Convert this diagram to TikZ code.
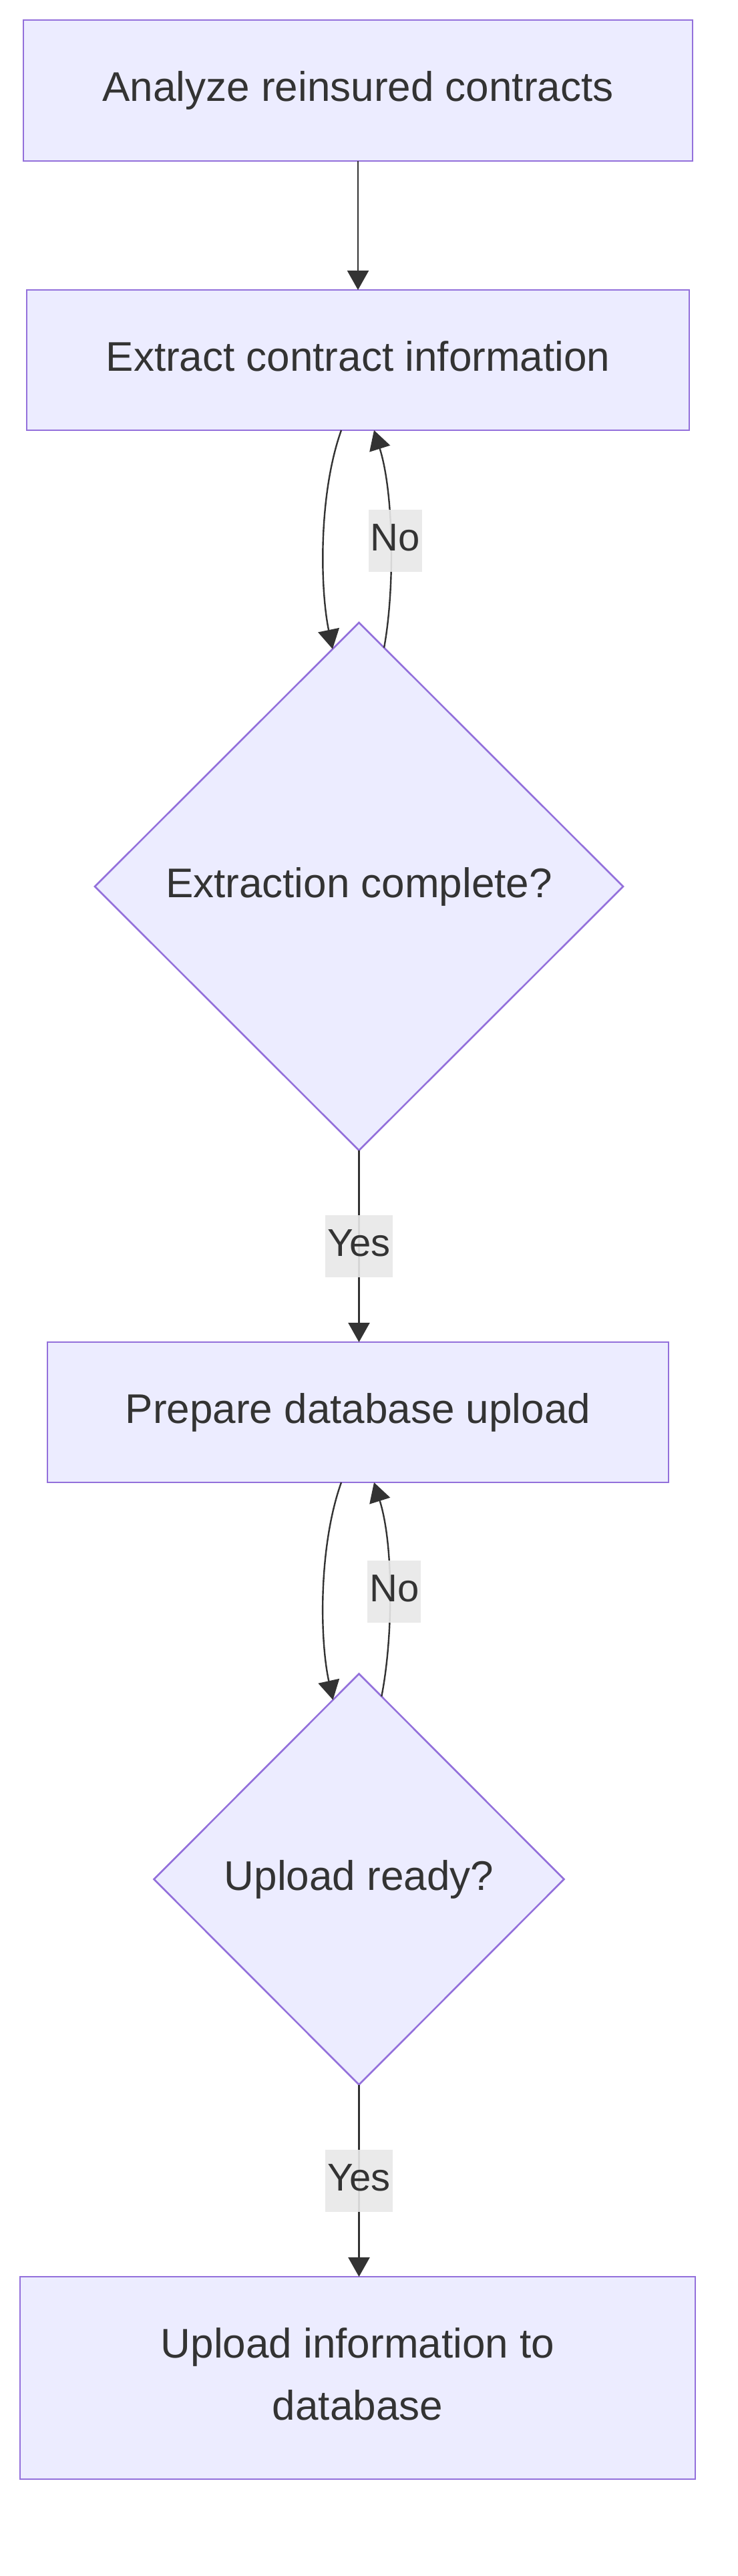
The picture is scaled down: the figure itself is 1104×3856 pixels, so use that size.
\documentclass[tikz,border=0pt]{standalone}
\usepackage{fontspec}
\setmainfont{Liberation Sans}
\usetikzlibrary{shapes.geometric,arrows.meta,calc}
\definecolor{nodefill}{HTML}{ECECFF}
\definecolor{nodeborder}{HTML}{9370DB}
\definecolor{ink}{HTML}{333333}
\definecolor{lblbg}{HTML}{E8E8E8}
\begin{document}
\begin{tikzpicture}[x=0.5pt,y=-0.5pt,
  box/.style={rectangle, draw=nodeborder, fill=nodefill, line width=1.3pt, text=ink,
    font=\fontsize{31}{46.5}\selectfont, inner sep=0pt, outer sep=0pt,
    text height=22.5pt, text depth=6.5pt},
  boxml/.style={rectangle, draw=nodeborder, fill=nodefill, line width=1.3pt, text=ink,
    font=\fontsize{31}{46.5}\selectfont, inner sep=0pt, outer sep=0pt, align=center},
  decision/.style={diamond, aspect=1, draw=nodeborder, fill=nodefill, line width=1.3pt, text=ink,
    font=\fontsize{31}{46.5}\selectfont, inner sep=0pt, outer sep=0pt,
    text height=22.5pt, text depth=6.5pt},
  arr/.style={draw=ink, line width=1.2pt, -{Triangle[length=14.5pt,width=16pt]}},
  lbl/.style={fill=lblbg, fill opacity=0.9, text opacity=1, text=ink,
    font=\fontsize{29}{35}\selectfont, inner xsep=1.5pt, inner ysep=0pt,
    minimum height=46.5pt, text height=20.8pt, text depth=6pt}
]
\useasboundingbox (0,0) rectangle (1104,3856);

\node[box, minimum width=501pt, minimum height=105.5pt] (b1) at (536,135.5) {Analyze reinsured contracts};
\node[box, minimum width=496pt, minimum height=105pt] (b2) at (536,539) {Extract contract information};
\node[decision, minimum width=395.5pt, minimum height=395pt] (d1) at (537.5,1327) {Extraction complete?};
\node[box, minimum width=465pt, minimum height=105pt] (b3) at (536,2114) {Prepare database upload};
\node[decision, minimum width=307pt, minimum height=307.5pt] (d2) at (537.5,2813) {Upload ready?};
\node[boxml, minimum width=505.5pt, minimum height=151.5pt] (b4) at (535.5,3559.5) {Upload information to\\database\rule[-6.5pt]{0pt}{6.5pt}};

% b1 -> b2
\draw[arr] (b1.south) -- (b1.south |- b2.north);

% b2 -> d1 (left curve)
\draw[arr] ($(b2.south)+(-25,0)$) .. controls +(-34,95) and +(-19,-92) .. ($(d1.north)!0.1!(d1.west)$);
% d1 -> b2 (No)
\draw[arr] ($(d1.north)!0.095!(d1.east)$) .. controls +(16,-87) and +(30,95) .. ($(b2.south)+(24,0)$)
  node[lbl, pos=0.5, xshift=3.5pt] {No};

% d1 -> b3 (Yes)
\draw[arr] (d1.south) -- (d1.south |- b3.north) node[lbl, pos=0.5] {Yes};

% b3 -> d2 (left curve)
\draw[arr] ($(b3.south)+(-25,0)$) .. controls +(-34,95) and +(-20,-91) .. ($(d2.north)!0.127!(d2.west)$);
% d2 -> b3 (No)
\draw[arr] ($(d2.north)!0.11!(d2.east)$) .. controls +(17,-86) and +(30,95) .. ($(b3.south)+(24,0)$)
  node[lbl, pos=0.5, xshift=3.5pt] {No};

% d2 -> b4 (Yes)
\draw[arr] (d2.south) -- (d2.south |- b4.north) node[lbl, pos=0.5] {Yes};
\end{tikzpicture}
\end{document}
